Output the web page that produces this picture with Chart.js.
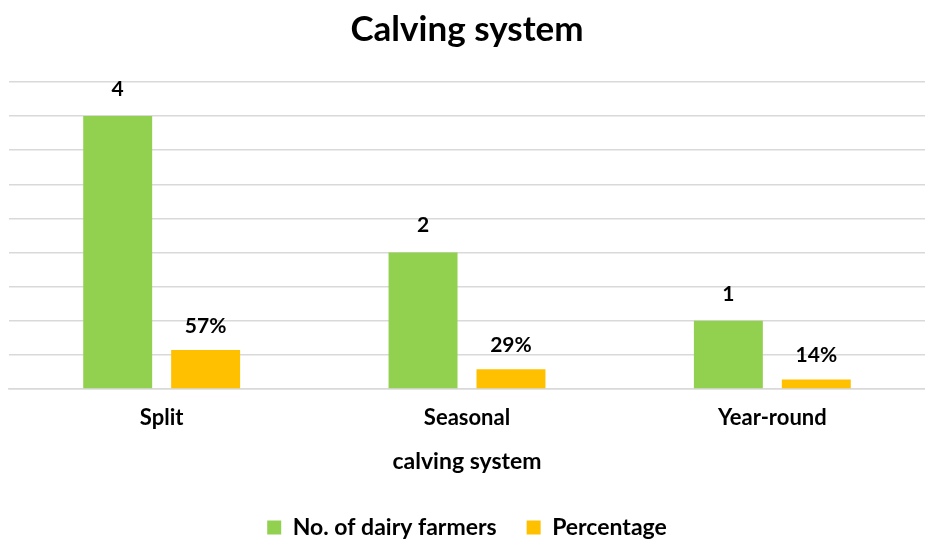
<!DOCTYPE html>
<html>
<head>
<meta charset="utf-8">
<script src="https://cdn.jsdelivr.net/npm/chart.js@4.4.1/dist/chart.umd.min.js"></script>
<style>
  html, body { margin: 0; padding: 0; background: #fff; }
  #wrap { width: 925px; height: 540px; }
</style>
</head>
<body>
<div id="wrap"><canvas id="myChart"></canvas></div>
<script>
const categories = ['Split', 'Seasonal', 'Year-round'];
const farmers = [4, 2, 1];
const percentage = [0.57, 0.29, 0.14];
const percentLabels = ['57%', '29%', '14%'];

const FONT = 'Lato, Calibri, "Liberation Sans", sans-serif';

// value labels above each bar
const barLabels = {
    id: 'barLabels',
    afterDatasetsDraw(chart) {
        const ctx = chart.ctx;
        ctx.save();
        ctx.font = 'bold 21px ' + FONT;
        ctx.fillStyle = '#000';
        ctx.textAlign = 'center';
        ctx.textBaseline = 'middle';
        chart.data.datasets.forEach((ds, i) => {
            chart.getDatasetMeta(i).data.forEach((bar, j) => {
                const text = i === 0 ? String(ds.data[j]) : percentLabels[j];
                ctx.fillText(text, bar.x, bar.y - (i === 0 ? 27 : 24));
            });
        });
        ctx.restore();
    }
};

new Chart(document.getElementById('myChart'), {
    type: 'bar',
    data: {
        labels: categories,
        datasets: [{
            label: 'No. of dairy farmers',
            data: farmers,
            backgroundColor: '#92d050',
            categoryPercentage: 0.576,
            barPercentage: 0.784
        }, {
            label: 'Percentage',
            data: percentage,
            backgroundColor: '#ffc000',
            categoryPercentage: 0.576,
            barPercentage: 0.784
        }]
    },
    options: {
        responsive: true,
        maintainAspectRatio: false,
        animation: false,
        layout: { padding: { left: 9, right: 0, top: 2, bottom: -9 } },
        plugins: {
            title: {
                display: true,
                text: 'Calving system',
                color: '#000',
                font: { family: FONT, size: 35, weight: 'bold' },
                padding: { top: 7, bottom: 31 }
            },
            legend: {
                position: 'bottom',
                labels: {
                    color: '#000',
                    boxWidth: 14,
                    boxHeight: 14,
                    padding: 30,
                    font: { family: FONT, size: 23, weight: 'bold' }
                }
            },
            tooltip: { enabled: false }
        },
        scales: {
            y: {
                min: 0,
                max: 4.5,
                ticks: { display: false, stepSize: 0.5 },
                grid: { color: '#d9d9d9', lineWidth: 1.5, drawTicks: false },
                border: { display: false }
            },
            x: {
                ticks: {
                    color: '#000',
                    padding: 16,
                    font: { family: FONT, size: 22, weight: 'bold' }
                },
                grid: { display: false, drawTicks: false },
                border: { color: '#d9d9d9', width: 1.5 },
                title: {
                    display: true,
                    text: 'calving system',
                    color: '#000',
                    padding: { top: 0, bottom: 11 },
                    font: { family: FONT, size: 23, weight: 'bold' }
                }
            }
        }
    },
    plugins: [barLabels]
});
</script>
</body>
</html>
